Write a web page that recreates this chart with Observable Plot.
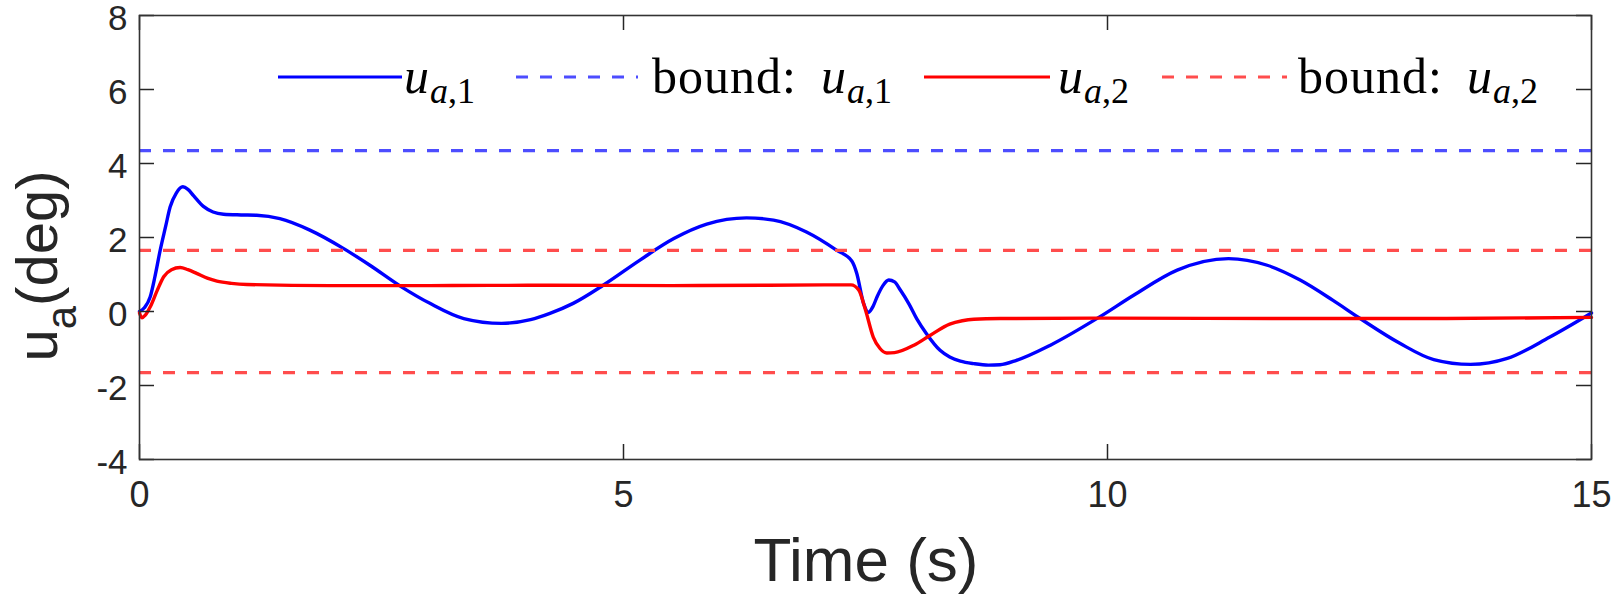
<!DOCTYPE html>
<html><head><meta charset="utf-8">
<script src="https://cdn.jsdelivr.net/npm/d3@7"></script>
<script src="https://cdn.jsdelivr.net/npm/@observablehq/plot@0.6"></script>
<style>body{margin:0;background:#fff}#chart{width:1614px;height:595px}</style>
</head><body><div id="chart"></div>
<script>
// ---- data ----
const timeU1 = [0,0.05,0.11,0.16,0.214,0.27,0.317,0.38,0.448,0.5,0.558,0.66,0.76,0.868,1.05,1.21,1.45,1.76,2.11,2.38,2.71,3.0,3.35,3.74,4.04,4.24,4.48,4.79,5.17,5.52,5.86,6.27,6.55,6.89,7.2,7.36,7.41,7.48,7.53,7.58,7.62,7.68,7.74,7.8,7.86,7.95,8.03,8.13,8.27,8.37,8.48,8.62,8.77,8.89,9.06,9.41,9.91,10.27,10.72,11.25,11.65,11.99,12.33,12.61,13.02,13.37,13.75,14.13,14.57,15];
const valuesU1 = [0,0.1,0.39,0.95,1.66,2.3,2.83,3.2,3.37,3.3,3.13,2.84,2.69,2.63,2.61,2.6,2.51,2.2,1.7,1.25,0.66,0.22,-0.19,-0.32,-0.22,-0.05,0.22,0.71,1.39,1.97,2.36,2.53,2.47,2.15,1.66,1.36,1.03,0.22,-0.02,0.15,0.4,0.7,0.85,0.8,0.58,0.2,-0.2,-0.6,-1.05,-1.23,-1.34,-1.41,-1.45,-1.44,-1.32,-0.91,-0.16,0.44,1.12,1.43,1.25,0.85,0.3,-0.19,-0.86,-1.3,-1.43,-1.27,-0.69,-0.04];
const timeU2 = [0,0.025,0.06,0.11,0.18,0.25,0.33,0.42,0.5,0.59,0.7,0.8,0.95,1.11,1.97,3.0,4.24,5.5,6.5,7.2,7.35,7.43,7.5,7.58,7.65,7.72,7.8,8.0,8.17,8.37,8.5,8.62,8.89,10,12,13.5,15];
const valuesU2 = [-0.04,-0.17,-0.1,0.12,0.55,0.94,1.13,1.19,1.13,1.03,0.9,0.82,0.76,0.73,0.7,0.7,0.71,0.7,0.71,0.72,0.72,0.58,0.04,-0.69,-1.0,-1.12,-1.11,-0.91,-0.64,-0.34,-0.25,-0.21,-0.19,-0.18,-0.19,-0.19,-0.16];
const boundU1 = [4.35, -4.35];
const boundU2 = [1.65, -1.65];
const xTicks = [0, 5, 10, 15];
const yTicks = [-4, -2, 0, 2, 4, 6, 8];
const legendItems = [
  {name: "u_a1", kind: "solid"},
  {name: "bound_u_a1", kind: "dashed"},
  {name: "u_a2", kind: "solid"},
  {name: "bound_u_a2", kind: "dashed"}
];

// ---- build ----
const W = 1614, H = 595;
const mL = 139, mR = 23, mT = 15, mB = 136;
const pw = W - mL - mR, ph = H - mT - mB;
const sans = "'Liberation Sans', Arial, Helvetica, sans-serif";
const serif = "'Liberation Serif', 'Times New Roman', serif";
const ink = "#262626";
const fmt = d => String(d);

const u1 = timeU1.map((t, i) => ({t, v: valuesU1[i]}));
const u2 = timeU2.map((t, i) => ({t, v: valuesU2[i]}));

const plot = Plot.plot({
  width: W, height: H,
  marginLeft: mL, marginRight: mR, marginTop: mT, marginBottom: mB,
  style: {fontFamily: sans, color: ink, background: "#fff", overflow: "visible"},
  x: {domain: [0, 15]},
  y: {domain: [-4, 8]},
  marks: [
    Plot.line(u1, {x: "t", y: "v", stroke: "#0000ff", strokeWidth: 3.4, curve: "monotone-x"}),
    Plot.ruleY(boundU1, {y: d => d, stroke: "#4d4dff", strokeWidth: 3.2, strokeDasharray: "12,12", clip: true}),
    Plot.line(u2, {x: "t", y: "v", stroke: "#ff0000", strokeWidth: 3.4, curve: "monotone-x"}),
    Plot.ruleY(boundU2, {y: d => d, stroke: "#ff4d4d", strokeWidth: 3.2, strokeDasharray: "12,12", clip: true}),
    // inward ticks on all four sides
    Plot.tickY(yTicks, {y: d => d, insetRight: pw - 15, stroke: ink, strokeWidth: 1.5}),
    Plot.tickY(yTicks, {y: d => d, insetLeft: pw - 15, stroke: ink, strokeWidth: 1.5}),
    Plot.tickX(xTicks, {x: d => d, insetTop: ph - 15, stroke: ink, strokeWidth: 1.5}),
    Plot.tickX(xTicks, {x: d => d, insetBottom: ph - 15, stroke: ink, strokeWidth: 1.5}),
    Plot.frame({stroke: "#333", strokeWidth: 1.6}),
    Plot.axisX({ticks: xTicks, tickSize: 0, tickPadding: 22, fontSize: 36, label: null, tickFormat: fmt}),
    Plot.axisY({ticks: yTicks, tickSize: 0, tickPadding: 12, fontSize: 35, label: null, tickFormat: fmt, dy: 3})
  ]
});
document.getElementById("chart").appendChild(plot);

const svg = d3.select(plot);
// x label
svg.append("text").attr("x", 866).attr("y", 581).attr("text-anchor", "middle")
  .style("font-family", sans).style("font-size", "62px").attr("fill", ink).text("Time (s)");
// y label
const yl = svg.append("text").attr("transform", "translate(57,266) rotate(-90)").attr("text-anchor", "middle")
  .style("font-family", sans).style("font-size", "58px").attr("fill", ink);
yl.append("tspan").text("u");
yl.append("tspan").attr("dy", 19).style("font-size", "42px").text("a");
yl.append("tspan").attr("dy", -19).text("(deg)");

// legend
const lg = svg.append("g").attr("text-anchor", "start");
const legendLayout = [
  {x1: 278, x2: 402, tx: 404, color: "#0000ff", sub: ",1", bound: false},
  {x1: 516, x2: 638, tx: 652, color: "#4d4dff", sub: ",1", bound: true},
  {x1: 924, x2: 1050, tx: 1058, color: "#ff0000", sub: ",2", bound: false},
  {x1: 1162, x2: 1287, tx: 1298, color: "#ff4d4d", sub: ",2", bound: true}
];
legendItems.forEach((it, i) => {
  const L = legendLayout[i];
  lg.append("line").attr("x1", L.x1).attr("x2", L.x2).attr("y1", 77).attr("y2", 77)
    .attr("stroke", L.color).attr("stroke-width", 3.2)
    .attr("stroke-dasharray", it.kind === "dashed" ? "12,12" : null);
  const t = lg.append("text").attr("x", L.tx).attr("y", 93).attr("text-anchor", "start")
    .style("font-family", serif).style("font-size", "50px").attr("fill", "#000");
  const first = t.append("tspan");
  if (L.bound) {
    first.style("letter-spacing", "1px").text("bound:");
    t.append("tspan").attr("dx", 24).style("font-style", "italic").text("u");
  } else first.style("font-style", "italic").text("u");
  t.append("tspan").attr("dy", 10).attr("dx", 1).style("font-size", "36px").style("font-style", "italic").text("a");
  t.append("tspan").style("font-size", "36px").text(L.sub);
});
</script>
</body></html>
